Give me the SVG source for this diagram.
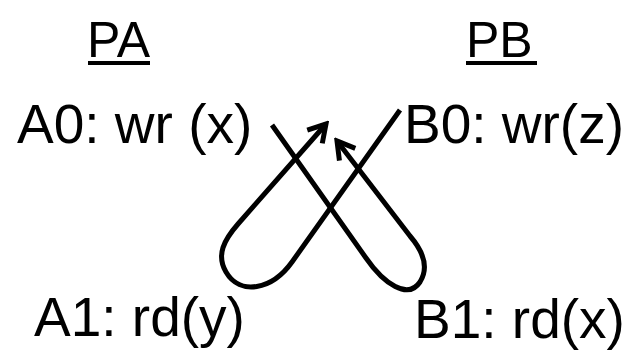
<svg xmlns="http://www.w3.org/2000/svg" width="633" height="351" viewBox="0 0 633 351">
<style>
.lbl{font-family:"Liberation Sans",Arial,sans-serif;font-size:55px;fill:#000}
.hdr{font-family:"Liberation Sans",Arial,sans-serif;font-size:50px;fill:#000}
.ul{stroke:#000;stroke-width:4}
.conn{fill:none;stroke:#000;stroke-width:5;stroke-linecap:butt;stroke-linejoin:round}
</style>
<defs>
<marker id="arr" viewBox="-22 -14 26 28" markerWidth="26" markerHeight="28" refX="0" refY="0" orient="auto" markerUnits="userSpaceOnUse">
<path d="M-17,-10 L0,0 L-17,10" fill="none" stroke="#000" stroke-width="5" stroke-linejoin="miter" stroke-linecap="butt"/>
</marker>
</defs>
<g id="PA"><text class="hdr" x="87" y="57">PA</text><line class="ul" x1="88" y1="63" x2="150" y2="63"/></g>
<g id="PB"><text class="hdr" x="466" y="57">PB</text><line class="ul" x1="466" y1="63" x2="537" y2="63"/></g>
<g id="A0"><text class="lbl" x="17" y="143">A0: wr (x)</text></g>
<g id="B0"><text class="lbl" x="404" y="143">B0: wr(z)</text></g>
<g id="A1"><text class="lbl" x="34" y="336">A1: rd(y)</text></g>
<g id="B1"><text class="lbl" x="414" y="338">B1: rd(x)</text></g>
<g id="connectors">
<path class="conn" marker-end="url(#arr)" d="M272,125 L366,258 C384,284 408,300 420,282 C430,266 422,250 410,236 L337,141"/>
<path class="conn" marker-end="url(#arr)" d="M400,110 L292,262 C272,290 240,296 226,272 C216,255 224,240 238,224 L326,124"/>
</g>
</svg>
